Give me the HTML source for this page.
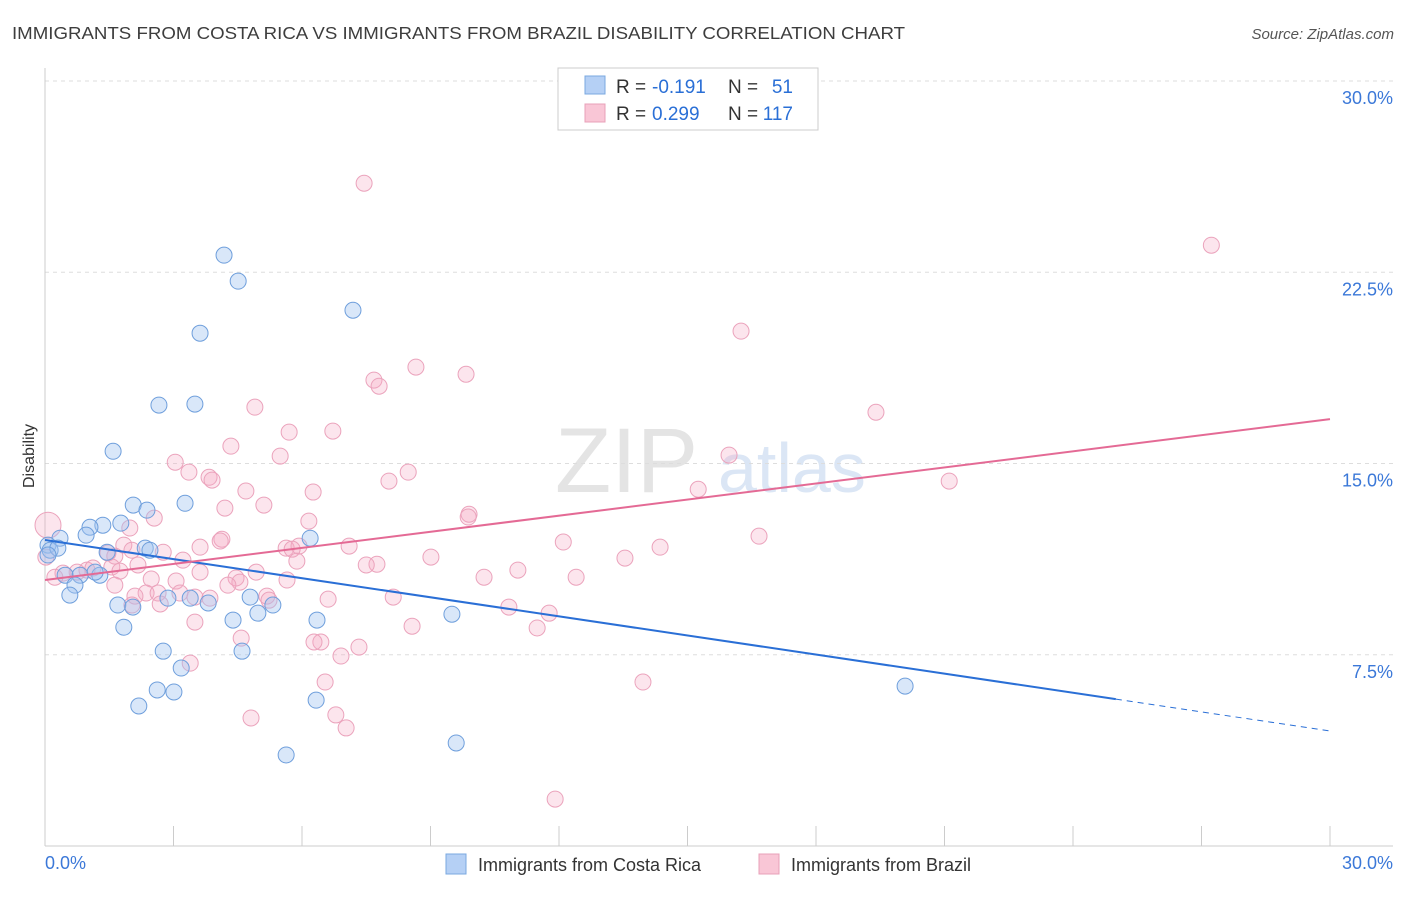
<!DOCTYPE html>
<html><head><meta charset="utf-8"><style>
body{margin:0;background:#fff;font-family:"Liberation Sans",sans-serif;}
svg text{font-family:"Liberation Sans",sans-serif;}
</style></head><body>
<svg id="chart" width="1406" height="892" xmlns="http://www.w3.org/2000/svg">
<text x="12" y="39" font-size="17.5" fill="#3d3d3d" textLength="893" lengthAdjust="spacingAndGlyphs">IMMIGRANTS FROM COSTA RICA VS IMMIGRANTS FROM BRAZIL DISABILITY CORRELATION CHART</text>
<text x="1394" y="39" font-size="15" fill="#555" font-style="italic" text-anchor="end">Source: ZipAtlas.com</text>
<text x="555" y="492" font-size="92" fill="#e4e4e4" font-family="Liberation Serif">ZIP</text>
<text x="718" y="492" font-size="70" fill="#dbe6f5">atlas</text>
<g id="grid"></g><g id="marks"></g>
<text transform="translate(34,456) rotate(-90)" font-size="16" fill="#333" text-anchor="middle">Disability</text>
<g>
<rect x="558" y="68" width="260" height="62" fill="#fff" stroke="#ccc"/>
<rect x="585" y="76" width="20" height="18" fill="#b5d0f5" stroke="#7aa8e0"/>
<rect x="585" y="104" width="20" height="18" fill="#f9c6d6" stroke="#e8a0b8"/>
<text x="616" y="93" font-size="19" fill="#333">R =</text>
<text x="652" y="93" font-size="19" fill="#2a6fd6">-0.191</text>
<text x="728" y="93" font-size="19" fill="#333">N =</text>
<text x="793" y="93" font-size="19" fill="#2a6fd6" text-anchor="end">51</text>
<text x="616" y="120" font-size="19" fill="#333">R =</text>
<text x="652" y="120" font-size="19" fill="#2a6fd6">0.299</text>
<text x="728" y="120" font-size="19" fill="#333">N =</text>
<text x="793" y="120" font-size="19" fill="#2a6fd6" text-anchor="end">117</text>
</g>
<g>
<rect x="446" y="854" width="20" height="20" fill="#b5d0f5" stroke="#7aa8e0"/>
<text x="478" y="871" font-size="18" fill="#333">Immigrants from Costa Rica</text>
<rect x="759" y="854" width="20" height="20" fill="#f9c6d6" stroke="#e8a0b8"/>
<text x="791" y="871" font-size="18" fill="#333">Immigrants from Brazil</text>
</g>
</svg>
<script>
const yTicks=[7.5,15,22.5,30];
const yTickLabels=["7.5%","15.0%","22.5%","30.0%"];
const xTicks=[0,3,6,9,12,15,18,21,24,27,30];
const xTickLabels=["0.0%","30.0%"];
const blueX=[4.18,4.51,7.19,3.62,2.66,3.50,1.59,2.06,3.27,2.38,1.77,1.35,1.05,0.96,0.35,0.07,0.12,0.30,2.34,2.45,1.45,6.19,0.47,0.82,1.28,1.17,0.70,0.58,1.70,2.05,2.87,3.39,3.81,4.79,5.32,4.97,4.39,6.35,9.50,1.84,2.76,4.60,3.18,2.62,3.01,2.19,6.33,5.63,9.60,20.08,0.07];
const blueY=[23.17,22.15,21.01,20.11,17.29,17.33,15.48,13.37,13.44,13.17,12.66,12.58,12.50,12.19,12.07,11.80,11.60,11.68,11.68,11.60,11.52,12.07,10.62,10.62,10.62,10.74,10.23,9.84,9.45,9.37,9.72,9.72,9.53,9.76,9.45,9.13,8.86,8.86,9.09,8.58,7.64,7.64,6.98,6.12,6.04,5.49,5.72,3.57,4.04,6.27,11.41];
const pinkX=[7.45,27.23,16.25,8.66,9.83,7.68,7.80,4.90,19.40,6.72,5.70,4.34,3.04,5.49,15.97,3.36,8.48,3.83,3.90,8.03,21.11,15.25,6.26,4.69,5.11,4.20,9.90,9.88,2.55,6.16,1.98,4.13,4.09,12.10,16.67,7.10,14.36,3.62,1.84,1.47,1.63,2.03,2.76,5.63,5.93,5.77,9.01,13.54,3.22,5.88,7.75,7.50,2.17,1.56,1.75,0.98,0.75,1.12,0.42,0.23,4.93,11.04,3.62,10.25,12.40,2.48,4.46,4.55,5.65,3.06,1.63,4.27,2.36,2.64,3.15,3.50,2.10,3.85,5.18,5.23,8.13,6.61,10.83,2.03,2.69,11.77,3.50,8.57,11.49,4.58,6.44,6.28,7.33,6.91,3.39,13.96,6.54,4.81,6.79,7.03,11.91,0.02,0.07];
const pinkY=[25.99,23.56,20.19,18.78,18.50,18.27,18.03,17.21,17.01,16.27,16.23,15.68,15.05,15.29,15.33,14.66,14.66,14.46,14.35,14.31,14.31,13.99,13.88,13.92,13.37,13.25,13.01,12.90,12.86,12.74,12.47,12.03,11.96,11.92,12.15,11.76,11.72,11.72,11.80,11.49,11.37,11.60,11.52,11.68,11.76,11.64,11.33,11.29,11.21,11.17,11.05,11.02,11.02,10.94,10.78,10.82,10.74,10.90,10.70,10.54,10.74,10.82,10.74,10.54,10.54,10.47,10.51,10.35,10.43,10.39,10.23,10.23,9.92,9.92,9.92,9.76,9.80,9.72,9.80,9.64,9.76,9.68,9.37,9.45,9.49,9.13,8.78,8.62,8.55,8.15,8.00,8.00,7.80,7.45,7.17,6.43,6.43,5.02,5.14,4.63,1.84,11.33,12.58];
const blueLine=[[0,12.0],[25,5.76],[30,4.51]];
const pinkLine=[[0,10.43],[30,16.74]];
const NS="http://www.w3.org/2000/svg";
const X=v=>45+v*(1285/30), Y=v=>846-v*25.5;
function mk(tag,at,parent){const e=document.createElementNS(NS,tag);for(const k in at)e.setAttribute(k,at[k]);parent.appendChild(e);return e;}
const grid=document.getElementById('grid'),marks=document.getElementById('marks');
yTicks.forEach((t,i)=>{
 const l=mk('line',{x1:45,x2:1393,y1:Y(t),y2:Y(t),stroke:'#ddd','stroke-dasharray':'4,4'},grid);
 
 
 const tx=mk('text',{x:1393,y:Y(t)+23,'font-size':18,fill:'#3b78d8','text-anchor':'end'},grid);tx.textContent=yTickLabels[i];
 
 
});
const ax=mk('line',{x1:45,x2:45,y1:68,y2:846,stroke:'#ccc'},grid);


const bx=mk('line',{x1:45,x2:1393,y1:846,y2:846,stroke:'#ccc'},grid);


xTicks.forEach(t=>{const l=mk('line',{x1:X(t),x2:X(t),y1:826,y2:846,stroke:'#ccc'},grid);
 
 });
[[0,'start',45],[30,'end',1393]].forEach((d,i)=>{const tx=mk('text',{x:d[2],y:869,'font-size':18,fill:'#3b78d8','text-anchor':d[1]},grid);tx.textContent=xTickLabels[i];
 
 });
pinkX.forEach((x,i)=>{const big=i===pinkX.length-1;const c=mk('circle',{cx:X(x),cy:Y(pinkY[i]),r:big?13:8,fill:'rgba(245,170,195,0.3)',stroke:'#eba3bc','stroke-width':1},marks);
 
 });
blueX.forEach((x,i)=>{const c=mk('circle',{cx:X(x),cy:Y(blueY[i]),r:8,fill:'rgba(160,195,240,0.4)',stroke:'#6f9fdc','stroke-width':1},marks);
 
 });
const b1=mk('line',{x1:X(blueLine[0][0]),y1:Y(blueLine[0][1]),x2:X(blueLine[1][0]),y2:Y(blueLine[1][1]),stroke:'#2a6fd6','stroke-width':2},marks);


const b2=mk('line',{x1:X(blueLine[1][0]),y1:Y(blueLine[1][1]),x2:X(blueLine[2][0]),y2:Y(blueLine[2][1]),stroke:'#2a6fd6','stroke-width':1,'stroke-dasharray':'6,5'},marks);


const p1=mk('line',{x1:X(pinkLine[0][0]),y1:Y(pinkLine[0][1]),x2:X(pinkLine[1][0]),y2:Y(pinkLine[1][1]),stroke:'#e46a95','stroke-width':2},marks);


</script>
</body></html>
